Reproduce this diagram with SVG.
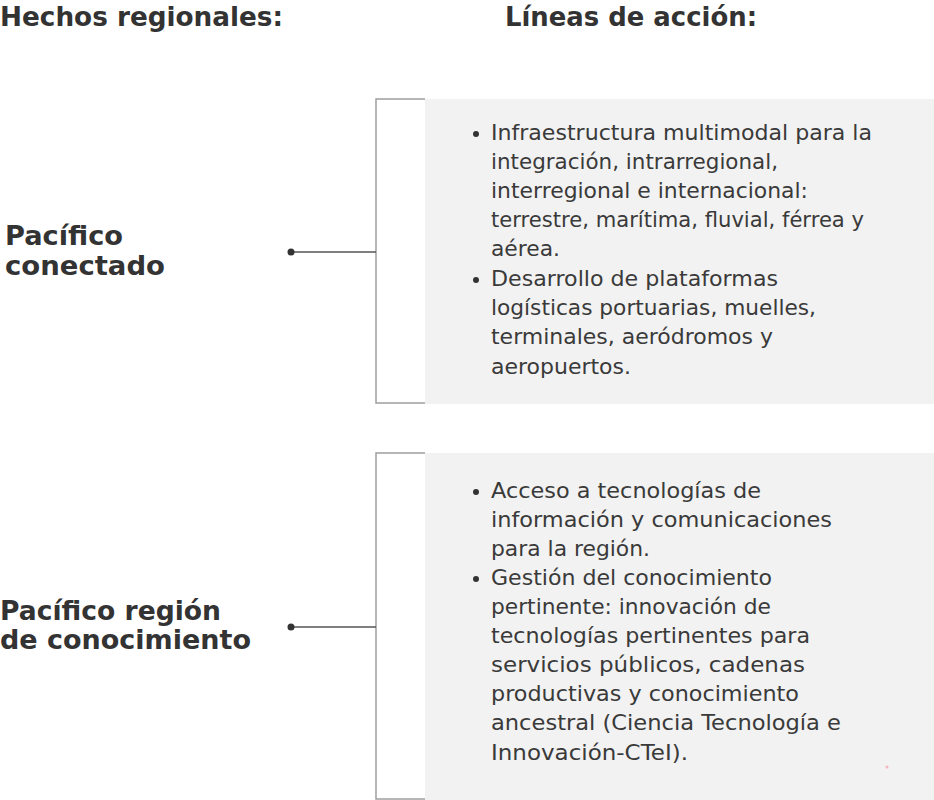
<svg xmlns="http://www.w3.org/2000/svg" width="934" height="800" viewBox="0 0 934 800">
<style>
.h{font-family:"DejaVu Sans","Liberation Sans",sans-serif;font-weight:700;font-size:27px;fill:#333333}
.l{font-family:"DejaVu Sans","Liberation Sans",sans-serif;font-weight:700;font-size:27px;fill:#333333}
.t{font-family:"DejaVu Sans","Liberation Sans",sans-serif;font-weight:400;font-size:20.5px;fill:#3a3a3a}
.box{fill:#f2f2f2}
.br{fill:none;stroke:#9e9e9e;stroke-width:1.5}
.cn{stroke:#555555;stroke-width:1.5}
.dot{fill:#333333}
.b{fill:#333333}
</style>
<rect width="934" height="800" fill="#ffffff"/>
<g id="headers">
<text class="h" x="0" y="26" textLength="283" lengthAdjust="spacingAndGlyphs">Hechos regionales:</text>
<text class="h" x="505" y="26" textLength="252" lengthAdjust="spacingAndGlyphs">Líneas de acción:</text>
</g>
<g id="node-pacifico-conectado">
<text class="l" x="5" y="245" textLength="118" lengthAdjust="spacingAndGlyphs">Pacífico</text>
<text class="l" x="5" y="275" textLength="160" lengthAdjust="spacingAndGlyphs">conectado</text>
</g>
<g id="node-lineas-1">
<rect class="box" x="425" y="99" width="509" height="305"/>
<path class="br" d="M425 99H376V403H425"/>
<circle class="b" cx="476" cy="134" r="3"/>
<circle class="b" cx="476" cy="280" r="3"/>
<text class="t" x="491" y="140" textLength="381" lengthAdjust="spacingAndGlyphs">Infraestructura multimodal para la</text>
<text class="t" x="491" y="169" textLength="287" lengthAdjust="spacingAndGlyphs">integración, intrarregional,</text>
<text class="t" x="491" y="198" textLength="317" lengthAdjust="spacingAndGlyphs">interregional e internacional:</text>
<text class="t" x="491" y="227" textLength="373" lengthAdjust="spacingAndGlyphs">terrestre, marítima, fluvial, férrea y</text>
<text class="t" x="491" y="256" textLength="69" lengthAdjust="spacingAndGlyphs">aérea.</text>
<text class="t" x="491" y="286" textLength="287" lengthAdjust="spacingAndGlyphs">Desarrollo de plataformas</text>
<text class="t" x="491" y="315" textLength="325" lengthAdjust="spacingAndGlyphs">logísticas portuarias, muelles,</text>
<text class="t" x="491" y="344" textLength="282" lengthAdjust="spacingAndGlyphs">terminales, aeródromos y</text>
<text class="t" x="491" y="374" textLength="140" lengthAdjust="spacingAndGlyphs">aeropuertos.</text>
</g>
<g id="node-pacifico-region">
<text class="l" x="0" y="620" textLength="221" lengthAdjust="spacingAndGlyphs">Pacífico región</text>
<text class="l" x="0" y="649" textLength="251" lengthAdjust="spacingAndGlyphs">de conocimiento</text>
</g>
<g id="node-lineas-2">
<rect class="box" x="425" y="453" width="509" height="347"/>
<path class="br" d="M425 453H376V799H425"/>
<circle class="b" cx="476" cy="492" r="3"/>
<circle class="b" cx="476" cy="579" r="3"/>
<text class="t" x="491" y="498" textLength="270" lengthAdjust="spacingAndGlyphs">Acceso a tecnologías de</text>
<text class="t" x="491" y="527" textLength="341" lengthAdjust="spacingAndGlyphs">información y comunicaciones</text>
<text class="t" x="491" y="556" textLength="159" lengthAdjust="spacingAndGlyphs">para la región.</text>
<text class="t" x="491" y="585" textLength="281" lengthAdjust="spacingAndGlyphs">Gestión del conocimiento</text>
<text class="t" x="491" y="614" textLength="280" lengthAdjust="spacingAndGlyphs">pertinente: innovación de</text>
<text class="t" x="491" y="643" textLength="319" lengthAdjust="spacingAndGlyphs">tecnologías pertinentes para</text>
<text class="t" x="491" y="672" textLength="314" lengthAdjust="spacingAndGlyphs">servicios públicos, cadenas</text>
<text class="t" x="491" y="701" textLength="308" lengthAdjust="spacingAndGlyphs">productivas y conocimiento</text>
<text class="t" x="491" y="730" textLength="350" lengthAdjust="spacingAndGlyphs">ancestral (Ciencia Tecnología e</text>
<text class="t" x="491" y="760" textLength="197" lengthAdjust="spacingAndGlyphs">Innovación-CTeI).</text>
<circle cx="887" cy="767" r="1.5" fill="#f4b6c0"/>
</g>
<g id="connectors">
<line class="cn" x1="291" y1="252" x2="376" y2="252"/>
<circle class="dot" cx="291" cy="252" r="3.5"/>
<line class="cn" x1="291" y1="627" x2="376" y2="627"/>
<circle class="dot" cx="291" cy="627" r="3.5"/>
</g>
</svg>
